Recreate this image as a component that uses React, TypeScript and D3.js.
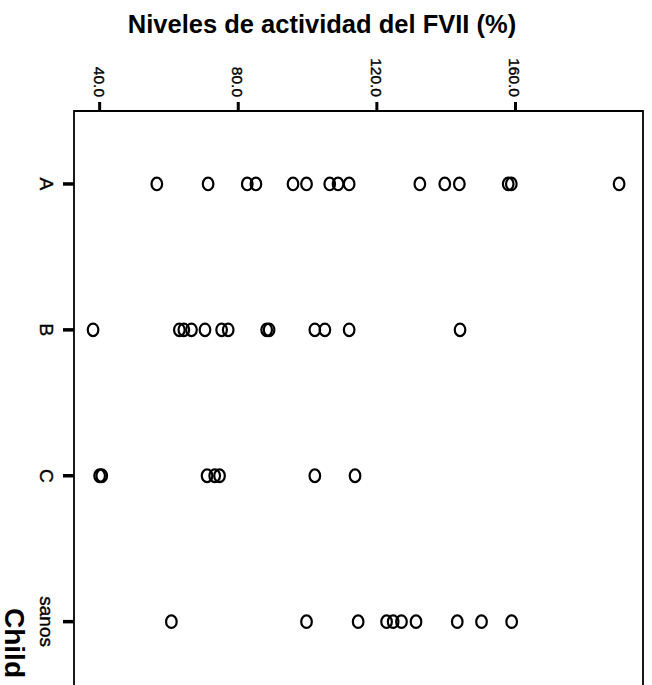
import React from 'react';
import * as d3 from 'd3';

const categories = ['A', 'B', 'C', 'sanos'];
const valuesA = [56.5, 71.3, 82.6, 85.1, 95.8, 99.7, 106.4, 108.8, 112.0, 132.4, 139.6, 143.8, 157.9, 158.8, 189.9];
const valuesB = [38.1, 63.0, 64.3, 66.5, 70.4, 75.2, 77.1, 88.2, 88.9, 102.1, 105.0, 112.0, 144.0];
const valuesC = [40.0, 40.6, 71.0, 73.2, 74.6, 102.1, 113.7];
const valuesSanos = [60.7, 99.7, 114.6, 122.8, 124.7, 127.1, 131.3, 143.2, 150.2, 158.9];
const tickValues = [40, 80, 120, 160];
const tickLabels = ['40.0', '80.0', '120.0', '160.0'];
const title = 'Niveles de actividad del FVII (%)';
const axisTitle = 'Child';

const W = 652;
const H = 685;
const font = '"Liberation Sans", Arial, Helvetica, sans-serif';

export default function App() {
  const x = d3.scaleLinear().domain([32.6, 196.8]).range([74, 643]);
  const y = d3.scalePoint<string>().domain(categories).range([111, 694.6]).padding(0.5);
  const series = [valuesA, valuesB, valuesC, valuesSanos];
  const top = 111;
  const left = 74;
  const right = 643;

  return (
    <svg width={W} height={H} style={{ position: 'absolute', left: 0, top: 0, background: '#fff' }}>
      <rect x={0} y={0} width={W} height={H} fill="#fff" />
      <text x={322} y={33} textAnchor="middle" fontFamily={font} fontWeight="bold" fontSize={25.5} fill="#000">
        {title}
      </text>
      {/* frame */}
      <path d={`M${left},${H + 10} V${top} H${right} V${H + 10}`} fill="none" stroke="#000" strokeWidth={1.8} />
      {/* top ticks */}
      {tickValues.map((v, i) => (
        <g key={v}>
          <line x1={x(v)} x2={x(v)} y1={102} y2={top} stroke="#000" strokeWidth={3} />
          <text
            transform={`translate(${x(v) - 6},97) rotate(90)`}
            textAnchor="end"
            fontFamily={font}
            fontSize={15.5}
            fill="#000"
            stroke="#000"
            strokeWidth={0.4}
          >
            {tickLabels[i]}
          </text>
        </g>
      ))}
      {/* left ticks */}
      {categories.map((c) => (
        <g key={c}>
          <line x1={63} x2={left} y1={y(c)!} y2={y(c)!} stroke="#000" strokeWidth={3.5} />
          <text
            transform={`translate(40,${y(c)!}) rotate(90)`}
            textAnchor="middle"
            fontFamily={font}
            fontSize={19}
            fill="#000"
            stroke="#000"
            strokeWidth={0.4}
          >
            {c}
          </text>
        </g>
      ))}
      <text
        transform={`translate(5,643) rotate(90)`}
        textAnchor="middle"
        fontFamily={font}
        fontWeight="bold"
        fontSize={28}
        fill="#000"
      >
        {axisTitle}
      </text>
      {/* points */}
      {series.map((vals, si) =>
        vals.map((v, j) => (
          <ellipse
            key={`${si}-${j}`}
            cx={x(v)}
            cy={y(categories[si])!}
            rx={5.3}
            ry={6.3}
            fill="none"
            stroke="#000"
            strokeWidth={2.2}
          />
        ))
      )}
    </svg>
  );
}
